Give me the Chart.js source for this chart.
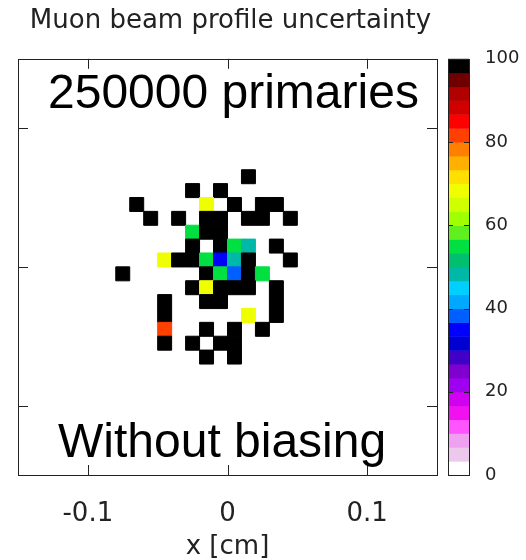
<!DOCTYPE html>
<html>
<head>
<meta charset="utf-8">
<script src="https://cdn.jsdelivr.net/npm/chart.js@4"></script>
<style>
  html, body { margin: 0; padding: 0; background: #fff; }
  #wrap { width: 526px; height: 560px; }
</style>
</head>
<body>
<div id="wrap"><canvas id="chart"></canvas></div>
<script>
const title = 'Muon beam profile uncertainty';
const topNote = '250000 primaries';
const bottomNote = 'Without biasing';
const xTitle = 'x [cm]';

const xTicks = [-0.1, 0, 0.1];
const xTickLabels = ['-0.1', '0', '0.1'];
const yTicks = [-0.1, 0, 0.1];
const cbTicks = [0, 20, 40, 60, 80, 100];

const binSize = 0.01;

// bin centres (cm) and relative uncertainty (%) of the filled bins
const cellX = [
  0.015,
  -0.025, -0.005,
  -0.065, -0.015, 0.005, 0.025, 0.035,
  -0.055, -0.035, -0.015, -0.005, 0.015, 0.025, 0.045,
  -0.025, -0.015, -0.005,
  -0.025, -0.005, 0.005, 0.015, 0.035,
  -0.045, -0.035, -0.025, -0.015, -0.005, 0.005, 0.015, 0.045,
  -0.075, -0.015, -0.005, 0.005, 0.015, 0.025,
  -0.025, -0.015, -0.005, 0.005, 0.015, 0.035,
  -0.045, -0.015, -0.005, 0.035,
  -0.045, 0.015, 0.035,
  -0.045, -0.015, 0.005, 0.025,
  -0.045, -0.025, -0.005, 0.005,
  -0.015, 0.005
];
const cellY = [
  0.065,
  0.055, 0.055,
  0.045, 0.045, 0.045, 0.045, 0.045,
  0.035, 0.035, 0.035, 0.035, 0.035, 0.035, 0.035,
  0.025, 0.025, 0.025,
  0.015, 0.015, 0.015, 0.015, 0.015,
  0.005, 0.005, 0.005, 0.005, 0.005, 0.005, 0.005, 0.005,
  -0.005, -0.005, -0.005, -0.005, -0.005, -0.005,
  -0.015, -0.015, -0.015, -0.015, -0.015, -0.015,
  -0.025, -0.025, -0.025, -0.025,
  -0.035, -0.035, -0.035,
  -0.045, -0.045, -0.045, -0.045,
  -0.055, -0.055, -0.055, -0.055,
  -0.065, -0.065
];
const cellVal = [
  100,
  100, 100,
  100, 68, 100, 100, 100,
  100, 100, 100, 100, 100, 100, 100,
  55, 100, 100,
  100, 100, 55, 48, 100,
  68, 100, 100, 55, 35, 48, 100, 100,
  100, 100, 55, 38, 100, 55,
  100, 68, 100, 100, 100, 100,
  100, 100, 100, 100,
  100, 68, 100,
  82, 100, 100, 100,
  100, 100, 100, 100,
  100, 100
];

// 30 steps from 0 to 100
const palette = [
  '#ffffff', '#ecc8ec', '#f0a0f0', '#ff55ff', '#f010f0', '#d000f0',
  '#a000f0', '#8000d0', '#4000c8', '#0000d0', '#0000ff', '#0060ff',
  '#00a8ff', '#00d0ff', '#00b8a8', '#00c070', '#00e040', '#60f020',
  '#a0ff00', '#d0ff00', '#f0ff00', '#ffe000', '#ffb000', '#ff8000',
  '#ff4000', '#ff0000', '#d00000', '#b00000', '#700000', '#000000'
];

const cbMax = 100;
const colorFor = v => palette[Math.min(palette.length - 1, Math.floor(v / cbMax * palette.length))];

const tickLen = 10;

const decor = {
  id: 'decor',
  afterDatasetsDraw(chart) {
    const {ctx, chartArea: a, scales: {x, y, cb}} = chart;
    ctx.save();

    // colour box
    const bx = cb.left + 11, bw = 21;
    const step = cbMax / palette.length;
    palette.forEach((c, i) => {
      const y0 = cb.getPixelForValue(i * step);
      const y1 = cb.getPixelForValue((i + 1) * step);
      ctx.fillStyle = c;
      ctx.fillRect(bx, y1, bw, y0 - y1 + 0.5);
    });
    ctx.strokeStyle = '#222';
    ctx.lineWidth = 1;
    ctx.strokeRect(Math.round(bx) + 0.5, Math.round(a.top) + 0.5, bw, Math.round(a.bottom - a.top));

    ctx.beginPath();
    cbTicks.forEach(v => {
      const py = Math.round(cb.getPixelForValue(v)) + 0.5;
      ctx.moveTo(bx, py); ctx.lineTo(bx + 5, py);
      ctx.moveTo(bx + bw - 5, py); ctx.lineTo(bx + bw, py);
    });
    // axis tick marks, pointing inwards
    xTicks.forEach(v => {
      const px = Math.round(x.getPixelForValue(v)) + 0.5;
      ctx.moveTo(px, a.bottom); ctx.lineTo(px, a.bottom - tickLen);
      ctx.moveTo(px, a.top); ctx.lineTo(px, a.top + tickLen);
    });
    yTicks.forEach(v => {
      const py = Math.round(y.getPixelForValue(v)) + 0.5;
      ctx.moveTo(a.left, py); ctx.lineTo(a.left + tickLen, py);
      ctx.moveTo(a.right, py); ctx.lineTo(a.right - tickLen, py);
    });
    ctx.stroke();
    ctx.strokeRect(Math.round(a.left) + 0.5, Math.round(a.top) + 0.5,
      Math.round(a.right - a.left), Math.round(a.bottom - a.top));

    // labels
    ctx.fillStyle = '#000';
    ctx.textBaseline = 'alphabetic';
    ctx.textAlign = 'left';
    ctx.font = '48px "Liberation Sans"';
    ctx.fillText(topNote, a.left + 30, a.top + 49);
    ctx.fillText(bottomNote, a.left + 40, a.bottom - 18);

    ctx.fillStyle = '#222';
    ctx.textAlign = 'center';
    ctx.font = '26px "DejaVu Sans"';
    ctx.fillText(title, (a.left + a.right) / 2 + 3, 28);
    ctx.restore();
  }
};

const ctx = document.getElementById('chart');

new Chart(ctx, {
  type: 'scatter',
  data: {
    datasets: [{
      data: cellX.map((v, i) => ({x: v, y: cellY[i]})),
      pointStyle: 'rect',
      backgroundColor: c => colorFor(cellVal[c.dataIndex]),
      borderColor: c => colorFor(cellVal[c.dataIndex]),
      borderWidth: 1,
      radius: c => {
        const s = c.chart.scales.x;
        return Math.abs(s.getPixelForValue(binSize) - s.getPixelForValue(0)) / Math.SQRT2;
      },
      hoverRadius: 0
    }]
  },
  options: {
    responsive: true,
    maintainAspectRatio: false,
    animation: false,
    events: [],
    layout: {padding: {top: 57, left: 18, right: 0, bottom: 0}},
    plugins: {
      legend: {display: false},
      tooltip: {enabled: false}
    },
    scales: {
      x: {
        type: 'linear',
        position: 'bottom',
        min: -0.15,
        max: 0.15,
        afterBuildTicks: s => { s.ticks = xTicks.map(v => ({value: v})); },
        afterFit: s => { s.height = 85; },
        grid: {display: false, drawTicks: false},
        border: {display: false},
        ticks: {
          padding: 24,
          color: '#222',
          font: {family: 'DejaVu Sans', size: 26},
          callback: (v, i) => xTickLabels[i]
        },
        title: {
          display: true,
          text: xTitle,
          color: '#222',
          font: {family: 'DejaVu Sans', size: 26, lineHeight: 1},
          padding: {top: 0, bottom: 0}
        }
      },
      y: {
        type: 'linear',
        display: false,
        min: -0.15,
        max: 0.15
      },
      cb: {
        type: 'linear',
        axis: 'y',
        position: 'right',
        min: 0,
        max: cbMax,
        afterBuildTicks: s => { s.ticks = cbTicks.map(v => ({value: v})); },
        afterFit: s => { s.width = 89; },
        grid: {display: false, drawTicks: false},
        border: {display: false},
        ticks: {
          padding: 48,
          color: '#222',
          font: {family: 'DejaVu Sans', size: 18}
        }
      }
    }
  },
  plugins: [decor]
});
</script>
</body>
</html>
